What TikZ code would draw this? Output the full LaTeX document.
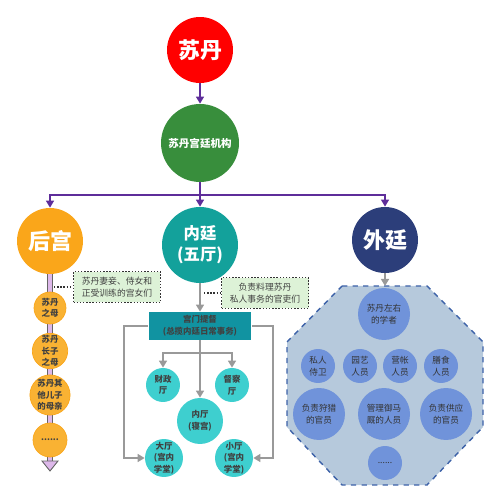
\documentclass[tikz,border=0pt]{standalone}
\usepackage{fontspec}
\setmainfont{Noto Sans CJK SC}
\usetikzlibrary{arrows.meta}

\definecolor{sultanred}{HTML}{FF0000}
\definecolor{courtgreen}{HTML}{388E3C}
\definecolor{haremorange}{HTML}{FAA61A}
\definecolor{motherorange}{HTML}{F9B233}
\definecolor{innerteal}{HTML}{13A19B}
\definecolor{outernavy}{HTML}{2C3E7A}
\definecolor{linkpurple}{HTML}{5E2D9A}
\definecolor{notegreen}{HTML}{DDF2D7}
\definecolor{gateteal}{HTML}{1193A1}
\definecolor{hallcyan}{HTML}{3ECFCF}
\definecolor{octblue}{HTML}{B6C9DC}
\definecolor{octborder}{HTML}{3D62A8}
\definecolor{staffblue}{HTML}{7093DA}
\definecolor{bartint}{HTML}{DDB8EA}

\tikzset{
  round/.style={circle, inner sep=0pt, minimum size=#1*0.04cm, align=center},
  bigtext/.style={text=white, font=\bfseries\fontsize{12.5}{14}\selectfont},
  smalltext/.style={text=black!75, font=\bfseries\fontsize{4.8}{6.6}\selectfont},
  mother/.style={smalltext, fill=motherorange, draw=haremorange},
  hall/.style={smalltext, fill=hallcyan},
  staff/.style={text=black!80, font=\fontsize{4.9}{6.6}\selectfont, fill=staffblue},
  note/.style={draw=black!80, densely dotted, thick, fill=notegreen, text=black!75,
    font=\fontsize{5}{6.6}\selectfont, align=center, inner sep=1pt,
    minimum width=1.74cm, minimum height=0.62cm},
  purplelink/.style={draw=linkpurple, line width=0.9pt},
  purplearrow/.style={purplelink, -{Triangle[width=4.5pt,length=4pt]}},
  grayarrow/.style={draw=black!40, line width=1.1pt, -{Triangle[width=4.5pt,length=4pt]}},
  dotlink/.style={draw=black!80, densely dotted, thick}
}

\begin{document}
\begin{tikzpicture}[x=0.02cm, y=-0.02cm]
\useasboundingbox (0,0) rectangle (500,502);

% top of the court
\node[round=33, fill=sultanred, bigtext] (sultan) at (200,50) {苏丹};
\node[round=39, fill=courtgreen, text=white, font=\bfseries\fontsize{6}{7}\selectfont] (court) at (200,143) {苏丹宫廷机构};
\draw[purplearrow] (sultan) -- (court);

\node[round=33, fill=haremorange, bigtext] (harem) at (50,241) {后宫};
\node[round=38, fill=innerteal, text=white, font=\bfseries\fontsize{9.3}{12}\selectfont] (inner) at (200,245) {内廷\\(五厅)};
\node[round=33, fill=outernavy, bigtext] (outer) at (385,240) {外廷};

\coordinate (bus) at (200,195);
\draw[purplelink] (court) -- (bus);
\draw[purplearrow] (bus) -| (harem);
\draw[purplearrow] (bus) -- (inner);
\draw[purplearrow] (bus) -| (outer);

% harem column
\coordinate (barend) at (50,461);
\draw[draw=black!60, line width=0.5pt, double=bartint, double distance=0.08cm] (harem) -- (barend);
\filldraw[fill=bartint, draw=black!60, line width=0.5pt] (42,461) -- (58,461) -- (50,471) -- cycle;

\node[round=16, mother] (mother) at (50,308) {苏丹\\之母};
\node[round=17, mother] (eldest) at (50,351) {苏丹\\长子\\之母};
\node[round=20, mother] (others) at (50,395) {苏丹其\\他儿子\\的母亲};
\node[round=17, mother] (moremothers) at (50,440) {......};

\node[note] (wives) at (117,287) {苏丹妻妾、侍女和\\正受训练的宫女们};
\coordinate (wivesdot) at (54,287);
\draw[dotlink] (wivesdot) -- (wives);

% inner court
\node[note] (clerks) at (265,293) {负责料理苏丹\\私人事务的官吏们};
\coordinate (clerksdot) at (204,293);
\draw[dotlink] (clerksdot) -- (clerks);

\node[smalltext, fill=gateteal, align=center, inner sep=0pt, minimum width=2.06cm, minimum height=0.56cm] (gate) at (200,326) {宫门提督\\(总揽内廷日常事务)};
\draw[grayarrow] (inner) -- (gate);

\node[round=17, hall] (treasury) at (163,385) {财政\\厅};
\node[round=17, hall] (inspect) at (232,385) {督察\\厅};
\node[round=23, hall] (chamber) at (200,421) {内厅\\(寝宫)};
\node[round=19, hall] (greathall) at (164,458) {大厅\\(宫内\\学堂)};
\node[round=19, hall] (smallhall) at (234,458) {小厅\\(宫内\\学堂)};

\coordinate (split) at (200,353);
\draw[grayarrow] (gate) -- (chamber);
\draw[grayarrow] (split) -| (treasury);
\draw[grayarrow] (split) -| (inspect);
\draw[grayarrow] (gate.west) -- ++(-24,0) |- (greathall);
\draw[grayarrow] (gate.east) -- ++(21,0) |- (smallhall);

% outer court
\filldraw[fill=octblue, draw=octborder, dashed, thick] (342,286) -- (427,286) -- (483,342) -- (483,427)
  -- (427,485) -- (342,485) -- (287,427) -- (287,342) -- cycle;
\coordinate (octtop) at (385,286);
\draw[grayarrow] (outer) -- (octtop);

\node[round=26, staff] (scholars) at (384,314) {苏丹左右\\的学者};
\foreach \x/\nm/\txt in {318/guards/{私人\\侍卫}, 360/gardeners/{园艺\\人员}, 400/tents/{营帐\\人员}, 441/kitchen/{膳食\\人员}}
  \node[round=17, staff] (\nm) at (\x,366) {\txt};
\foreach \x/\nm/\txt in {319/hunters/{负责狩猎\\的官员}, 384/stables/{管理御马\\厩的人员}, 446/supply/{负责供应\\的官员}}
  \node[round=26, staff] (\nm) at (\x,414) {\txt};
\node[round=17, staff] (morestaff) at (385,463) {......};

\end{tikzpicture}
\end{document}
